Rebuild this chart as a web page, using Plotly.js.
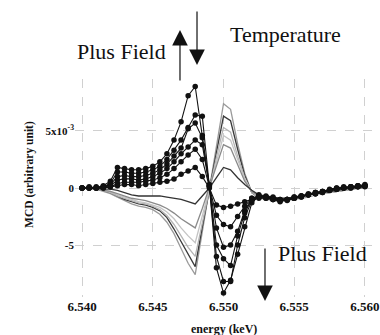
<!DOCTYPE html>
<html>
<head>
<meta charset="utf-8">
<script src="https://cdn.plot.ly/plotly-3.0.1.min.js"></script>
<style>html,body{margin:0;padding:0;background:#fff;}#chart{width:380px;height:335px;}</style>
</head>
<body>
<div id="chart"></div>
<script>
// energy (keV)
const energy = [6.5400,6.5405,6.5410,6.5415,6.5420,6.5425,6.5430,6.5435,6.5440,6.5445,
  6.5450,6.5455,6.5460,6.5465,6.5470,6.5475,6.5480,6.5485,6.5490,6.5495,
  6.5500,6.5505,6.5510,6.5515,6.5520,6.5525,6.5530,6.5535,6.5540,6.5545,
  6.5550,6.5555,6.5560,6.5565,6.5570,6.5575,6.5580,6.5585,6.5590,6.5595,6.5600];

// "Plus Field" series (black, with markers), MCD x 1e-3
const plus1 = [0.0,0.1,0.0,0.2,0.6,1.8,1.7,1.6,1.6,1.7,1.9,2.3,3.0,4.2,5.8,8.1,8.9,4.6,0.2,-7.0,-9.2,-8.1,-5.8,-3.4,-1.3,-0.7,-0.8,-0.9,-1.1,-1.0,-0.9,-0.8,-0.6,-0.5,-0.4,-0.2,-0.1,0.0,0.1,0.1,0.2];
const plus2 = [0.0,0.0,0.1,0.1,0.4,1.4,1.4,1.3,1.3,1.4,1.6,1.9,2.5,3.3,4.2,5.3,6.4,6.3,0.3,-6.0,-8.2,-8.2,-5.0,-2.6,-1.1,-0.8,-0.7,-0.9,-1.0,-1.1,-0.9,-0.7,-0.6,-0.5,-0.3,-0.2,-0.1,0.0,0.0,0.1,0.2];
const plus3 = [0.0,0.0,0.0,0.1,0.3,1.0,1.1,1.0,1.0,1.1,1.3,1.6,2.1,2.8,3.5,5.2,5.7,4.4,0.2,-5.0,-6.2,-6.8,-4.2,-2.2,-1.0,-0.6,-0.8,-0.8,-1.0,-1.0,-0.8,-0.7,-0.6,-0.4,-0.3,-0.2,0.0,0.0,0.1,0.2,0.1];
const plus4 = [0.0,0.0,0.0,0.1,0.2,0.7,0.8,0.8,0.7,0.8,1.0,1.3,1.7,2.3,3.0,3.6,4.2,3.8,0.2,-3.5,-5.2,-5.0,-3.8,-2.0,-0.9,-0.7,-0.9,-1.0,-1.1,-1.0,-0.9,-0.7,-0.5,-0.4,-0.3,-0.1,0.0,0.1,0.1,0.2,0.3];
const plus5 = [0.0,0.0,0.0,0.0,0.1,0.4,0.5,0.5,0.5,0.6,0.7,0.9,1.2,1.7,2.3,2.9,3.4,2.5,0.1,-2.4,-3.2,-3.4,-2.5,-1.6,-0.9,-0.8,-0.8,-1.0,-1.2,-1.0,-0.8,-0.7,-0.6,-0.4,-0.3,-0.2,-0.1,0.0,0.1,0.2,0.2];
const plus6 = [0.0,0.0,0.0,0.0,0.1,0.2,0.3,0.3,0.2,0.3,0.4,0.5,0.6,0.8,1.2,1.5,1.8,1.0,0.0,-1.5,-1.7,-1.6,-1.4,-1.2,-1.0,-0.9,-0.9,-1.0,-1.1,-1.0,-0.9,-0.8,-0.6,-0.5,-0.4,-0.2,-0.1,0.0,0.0,0.1,0.2];

// opposite-sign series (grey lines, no markers)
const line1 = [0.0,0.0,-0.1,-0.3,-0.5,-0.8,-1.1,-1.4,-1.6,-1.7,-1.9,-2.3,-3.0,-4.0,-5.3,-6.6,-7.6,-3.8,0.0,3.6,7.4,6.9,3.9,1.3,-0.4,-0.9,-1.0,-1.1,-1.2,-1.1,-1.0,-0.9,-0.8,-0.6,-0.5,-0.4,-0.3,-0.2,-0.1,0.0,0.0];
const line2 = [0.0,0.0,-0.1,-0.2,-0.4,-0.7,-1.0,-1.2,-1.4,-1.5,-1.7,-2.0,-2.6,-3.6,-4.7,-5.9,-6.9,-3.4,0.0,3.1,6.3,5.9,3.4,1.1,-0.4,-0.8,-0.9,-1.0,-1.1,-1.0,-0.9,-0.8,-0.7,-0.6,-0.5,-0.4,-0.3,-0.2,-0.1,0.0,0.0];
const line3 = [0.0,0.0,-0.1,-0.2,-0.4,-0.7,-0.9,-1.1,-1.3,-1.4,-1.6,-1.9,-2.4,-3.2,-4.2,-5.2,-6.0,-3.0,0.0,2.7,5.3,4.9,2.8,0.9,-0.4,-0.8,-0.9,-1.0,-1.0,-1.0,-0.9,-0.8,-0.7,-0.6,-0.5,-0.4,-0.3,-0.2,-0.1,0.0,0.0];
const line4 = [0.0,0.0,-0.1,-0.2,-0.3,-0.6,-0.8,-1.0,-1.2,-1.3,-1.5,-1.7,-2.1,-2.7,-3.5,-4.2,-4.8,-2.4,0.0,2.3,4.6,4.2,2.4,0.8,-0.3,-0.7,-0.8,-0.9,-1.0,-0.9,-0.8,-0.8,-0.7,-0.6,-0.5,-0.4,-0.3,-0.2,-0.1,0.0,0.1];
const line5 = [0.0,0.0,-0.1,-0.2,-0.3,-0.5,-0.7,-0.9,-1.0,-1.1,-1.3,-1.5,-1.8,-2.2,-2.7,-3.1,-3.5,-1.8,0.0,1.9,3.8,3.5,2.0,0.6,-0.3,-0.7,-0.8,-0.9,-1.0,-0.9,-0.8,-0.7,-0.6,-0.5,-0.4,-0.3,-0.2,-0.1,0.0,0.0,0.1];
const line6 = [0.0,0.0,0.0,-0.1,-0.1,-0.2,-0.4,-0.6,-0.7,-0.7,-0.7,-0.7,-0.8,-0.9,-1.0,-1.2,-1.4,-0.7,0.0,0.9,1.8,1.6,0.9,0.3,-0.2,-0.6,-0.7,-0.8,-0.9,-0.9,-0.8,-0.7,-0.6,-0.5,-0.4,-0.3,-0.2,-0.1,0.0,0.0,0.1];

const xTickVals = [6.540,6.545,6.550,6.555,6.560];
const xTickText = ['6.540','6.545','6.550','6.555','6.560'];
const yTickVals = [-5,0,5];
const yTickText = ['-5','0','5x10<sup>-3</sup>'];

const lineSeries = [line1,line2,line3,line4,line5,line6];
const lineColors = ['#9a9a9a','#3a3a3a','#b4b4b4','#c4c4c4','#8a8a8a','#333333'];
const plusSeries = [plus1,plus2,plus3,plus4,plus5,plus6];

const traces = [];
lineSeries.forEach((s,i)=>traces.push({
  x: energy, y: s, type:'scatter', mode:'lines',
  line:{color:lineColors[i], width:1.3}, hoverinfo:'skip', showlegend:false
}));
plusSeries.forEach((s,i)=>traces.push({
  x: energy, y: s, type:'scatter', mode:'lines+markers',
  line:{color:'#111', width:1.1}, marker:{color:'#111', size:5.5, symbol:'circle'},
  hoverinfo:'skip', showlegend:false
}));

const serif = 'Liberation Serif, Times New Roman, serif';
const layout = {
  width:380, height:335,
  margin:{l:75, r:8, t:79, b:38},
  paper_bgcolor:'#fff', plot_bgcolor:'#fff',
  font:{family:serif, color:'#111'},
  xaxis:{
    range:[6.5395,6.5605], tickvals:xTickVals, ticktext:xTickText,
    showgrid:true, gridcolor:'#d0d0d0', griddash:'dash', gridwidth:1,
    zeroline:false, showline:false, ticks:'',
    tickfont:{family:serif, size:13, color:'#111', weight:'bold'}
  },
  yaxis:{
    range:[-9.56,9.56], tickvals:yTickVals, ticktext:yTickText,
    showgrid:true, gridcolor:'#d0d0d0', griddash:'dash', gridwidth:1,
    zeroline:false, showline:false, ticks:'',
    tickfont:{family:serif, size:11, color:'#111', weight:'bold'}
  },
  annotations:[
    {xref:'paper', yref:'paper', x:0.5017, y:-0.147, text:'energy (keV)', showarrow:false,
     xanchor:'center', yanchor:'middle', font:{family:serif, size:12, weight:'bold', color:'#111'}},
    {xref:'paper', yref:'paper', x:-0.1515, y:0.56, text:'MCD (arbitrary unit)', showarrow:false,
     textangle:-90, xanchor:'center', yanchor:'middle', font:{family:serif, size:11.5, weight:'bold', color:'#111'}},
    {xref:'paper', yref:'paper', x:0.1549, y:1.124, text:'Plus Field', showarrow:false,
     xanchor:'center', yanchor:'middle', font:{family:serif, size:22, color:'#111'}},
    {xref:'paper', yref:'paper', x:0.7071, y:1.202, text:'Temperature', showarrow:false,
     xanchor:'center', yanchor:'middle', font:{family:serif, size:22, color:'#111'}},
    {xref:'paper', yref:'paper', x:0.835, y:0.2018, text:'Plus Field', showarrow:false,
     xanchor:'center', yanchor:'middle', font:{family:serif, size:22, color:'#111'}},
    {xref:'paper', yref:'paper', x:0.3535, y:1.2248, text:'', showarrow:true, ax:0, ay:52,
     arrowhead:2, arrowsize:2.6, arrowwidth:1.2, arrowcolor:'#111', standoff:0},
    {xref:'paper', yref:'paper', x:0.4108, y:1.0642, text:'', showarrow:true, ax:0, ay:-55,
     arrowhead:2, arrowsize:2.6, arrowwidth:1.2, arrowcolor:'#111', standoff:0},
    {xref:'paper', yref:'paper', x:0.6397, y:-0.0183, text:'', showarrow:true, ax:0, ay:-54,
     arrowhead:2, arrowsize:2.6, arrowwidth:1.2, arrowcolor:'#111', standoff:0}
  ]
};
Plotly.newPlot('chart', traces, layout, {staticPlot:true, displayModeBar:false});
</script>
</body>
</html>
